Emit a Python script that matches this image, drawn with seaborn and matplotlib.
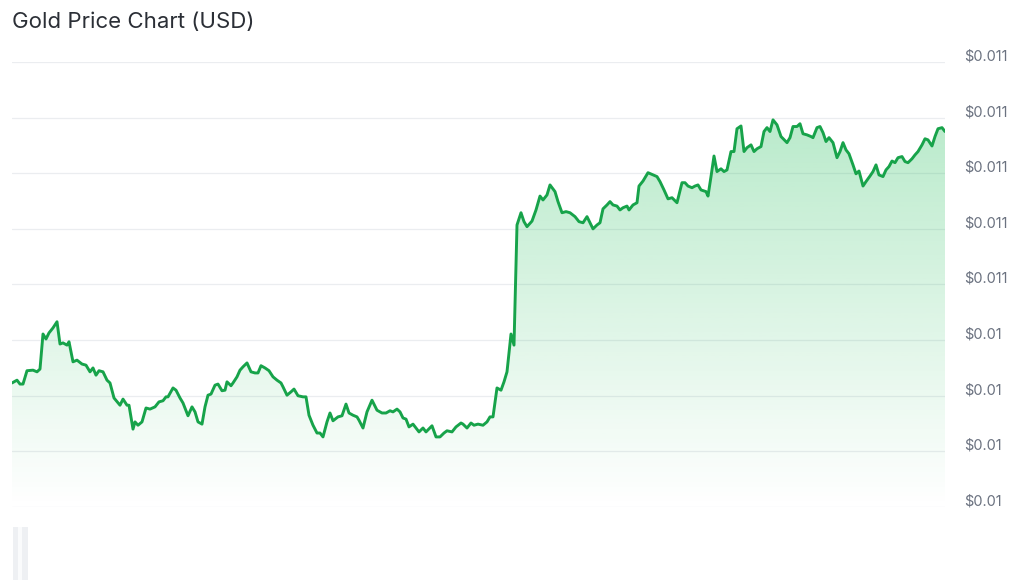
import numpy as np
import pandas as pd
import matplotlib
matplotlib.use('Agg')
import matplotlib.pyplot as plt
import matplotlib.transforms as mtransforms
import seaborn as sns
from matplotlib.patches import Rectangle

# horizontal sample positions (trading steps) and prices in USD
t = [12, 17, 20, 23, 27, 33, 37, 40, 43, 46, 49, 53, 57, 60, 63, 67, 69, 73, 77, 82,
     86, 90, 93, 96, 99, 103, 107, 110, 114, 120, 123, 127, 129, 133, 135, 138, 142, 146, 150, 155,
     159, 163, 166, 168, 173, 176, 180, 183, 188, 192, 195, 198, 202, 205, 208, 211, 215, 218, 222, 225,
     227, 231, 233, 237, 240, 243, 247, 251, 255, 258, 261, 265, 269, 273, 277, 281, 283, 287, 291, 294,
     298, 303, 306, 309, 313, 317, 320, 323, 327, 330, 333, 338, 342, 346, 349, 353, 357, 359, 363, 367,
     372, 377, 382, 386, 390, 393, 397, 400, 403, 406, 409, 413, 416, 419, 423, 426, 432, 436, 440, 444,
     447, 452, 456, 461, 463, 467, 471, 474, 478, 483, 487, 490, 493, 497, 501, 504, 507, 511, 514, 517,
     521, 524, 527, 532, 536, 540, 543, 547, 550, 555, 558, 562, 566, 570, 575, 579, 583, 587, 590, 593,
     597, 600, 603, 607, 610, 613, 617, 620, 623, 627, 629, 633, 637, 639, 643, 648, 653, 657, 660, 664,
     668, 672, 677, 682, 685, 688, 692, 695, 698, 701, 706, 708, 711, 714, 717, 721, 724, 727, 731, 734,
     737, 741, 744, 747, 751, 754, 757, 761, 764, 767, 770, 773, 777, 781, 787, 790, 793, 797, 800, 803,
     807, 811, 813, 817, 820, 823, 826, 829, 833, 837, 840, 843, 846, 849, 853, 856, 859, 863, 866, 870,
     873, 876, 879, 883, 886, 889, 892, 895, 898, 902, 905, 908, 912, 915, 918, 922, 925, 928, 932, 935,
     938, 942, 945]

price = [0.010323, 0.010328, 0.010321, 0.010321, 0.010345, 0.010346, 0.010343, 0.010348, 0.010411, 0.010402,
         0.010413, 0.010422, 0.010433, 0.010393, 0.010395, 0.010391, 0.010397, 0.010361, 0.010364, 0.010357,
         0.010355, 0.010343, 0.010350, 0.010337, 0.010345, 0.010343, 0.010328, 0.010323, 0.010296, 0.010283,
         0.010294, 0.010283, 0.010283, 0.010240, 0.010253, 0.010247, 0.010253, 0.010278, 0.010276, 0.010280,
         0.010289, 0.010291, 0.010298, 0.010298, 0.010314, 0.010310, 0.010296, 0.010287, 0.010264, 0.010280,
         0.010271, 0.010253, 0.010249, 0.010280, 0.010301, 0.010303, 0.010319, 0.010321, 0.010309, 0.010310,
         0.010325, 0.010318, 0.010323, 0.010334, 0.010346, 0.010352, 0.010359, 0.010343, 0.010341, 0.010341,
         0.010354, 0.010350, 0.010345, 0.010334, 0.010328, 0.010323, 0.010316, 0.010301, 0.010307, 0.010312,
         0.010300, 0.010298, 0.010298, 0.010265, 0.010247, 0.010233, 0.010233, 0.010226, 0.010253, 0.010269,
         0.010255, 0.010262, 0.010264, 0.010285, 0.010269, 0.010265, 0.010262, 0.010256, 0.010242, 0.010271,
         0.010292, 0.010274, 0.010269, 0.010269, 0.010273, 0.010271, 0.010276, 0.010271, 0.010260, 0.010258,
         0.010244, 0.010249, 0.010242, 0.010235, 0.010242, 0.010235, 0.010246, 0.010226, 0.010226, 0.010233,
         0.010237, 0.010235, 0.010244, 0.010251, 0.010249, 0.010242, 0.010251, 0.010247, 0.010249, 0.010247,
         0.010253, 0.010262, 0.010262, 0.010314, 0.010310, 0.010325, 0.010343, 0.010411, 0.010391, 0.010607,
         0.010629, 0.010613, 0.010604, 0.010614, 0.010634, 0.010659, 0.010652, 0.010661, 0.010679, 0.010667,
         0.010649, 0.010629, 0.010631, 0.010629, 0.010622, 0.010613, 0.010611, 0.010622, 0.010611, 0.010600,
         0.010607, 0.010611, 0.010636, 0.010643, 0.010649, 0.010643, 0.010641, 0.010634, 0.010638, 0.010641,
         0.010634, 0.010643, 0.010647, 0.010677, 0.010686, 0.010701, 0.010697, 0.010694, 0.010685, 0.010670,
         0.010654, 0.010656, 0.010647, 0.010683, 0.010683, 0.010677, 0.010674, 0.010677, 0.010679, 0.010670,
         0.010667, 0.010659, 0.010694, 0.010731, 0.010703, 0.010708, 0.010703, 0.010706, 0.010739, 0.010739,
         0.010780, 0.010785, 0.010739, 0.010746, 0.010751, 0.010739, 0.010744, 0.010748, 0.010775, 0.010782,
         0.010775, 0.010796, 0.010787, 0.010766, 0.010755, 0.010764, 0.010784, 0.010784, 0.010789, 0.010771,
         0.010769, 0.010766, 0.010764, 0.010782, 0.010784, 0.010773, 0.010757, 0.010764, 0.010755, 0.010728,
         0.010739, 0.010755, 0.010742, 0.010735, 0.010715, 0.010699, 0.010704, 0.010677, 0.010685, 0.010695,
         0.010703, 0.010715, 0.010697, 0.010694, 0.010706, 0.010712, 0.010722, 0.010719, 0.010728, 0.010730,
         0.010721, 0.010719, 0.010726, 0.010733, 0.010739, 0.010751, 0.010762, 0.010760, 0.010749, 0.010766,
         0.010780, 0.010782, 0.010775]

tick_values = [0.0101, 0.0102, 0.0103, 0.0104, 0.0105, 0.0106, 0.0107, 0.0108, 0.0109]
tick_labels = ['$0.01', '$0.01', '$0.01', '$0.01', '$0.011', '$0.011', '$0.011', '$0.011', '$0.011']

df = pd.DataFrame({'t': t, 'price': price})

sns.set_theme(style='white')
plt.rcParams['font.family'] = ['Inter', 'DejaVu Sans']

fig = plt.figure(figsize=(10.21, 5.80), dpi=100)
ax = fig.add_axes([12 / 1021, 73 / 580, 933 / 1021, 445 / 580])

green = '#17a34a'
ymin, ymax = tick_values[0], tick_values[-1]

# gradient fill under the line
grad = np.zeros((256, 1, 4))
rgb = np.array([34, 190, 90]) / 255
grad[:, 0, :3] = rgb
grad[:, 0, 3] = np.linspace(0.36, 0.0, 256)
fill = ax.fill_between(df.t, df.price, ymin, color='none', lw=0)
img = ax.imshow(grad, extent=[df.t.min(), df.t.max(), ymin, ymax],
                aspect='auto', origin='upper', zorder=1)
img.set_clip_path(fill.get_paths()[0], transform=ax.transData)

sns.lineplot(data=df, x='t', y='price', color=green, lw=2.1, ax=ax, zorder=3)

ax.set_xlim(df.t.min(), df.t.max())
ax.set_ylim(ymin, ymax)
ax.set_yticks(tick_values)
ax.set_yticklabels(tick_labels)
ax.yaxis.tick_right()
ax.tick_params(axis='y', length=0, pad=14, labelsize=10.5, labelcolor='#6b7280')
# labels sit a little above their gridlines
shift = mtransforms.ScaledTranslation(0, 7 / 100, fig.dpi_scale_trans)
for lab in ax.get_yticklabels():
    lab.set_transform(lab.get_transform() + shift)
ax.set_xticks([])
ax.set_xlabel('')
ax.set_ylabel('')
ax.grid(axis='y', color='#ebedf0', lw=0.9)
ax.set_axisbelow(True)
for s in ax.spines.values():
    s.set_visible(False)

fig.text(12 / 1021, 1 - 22 / 580, 'Gold Price Chart (USD)', fontsize=16,
         color='#2b2f36', va='center', ha='left')

# faint scrollbar handle at the bottom-left
fig.add_artist(Rectangle((13 / 1021, 0), 15 / 1021, 53 / 580,
                         transform=fig.transFigure, color='#eef0f3', lw=0))
fig.add_artist(Rectangle((18 / 1021, 0), 4 / 1021, 53 / 580,
                         transform=fig.transFigure, color='#fafbfc', lw=0))

fig.savefig('out.png', dpi=100)
